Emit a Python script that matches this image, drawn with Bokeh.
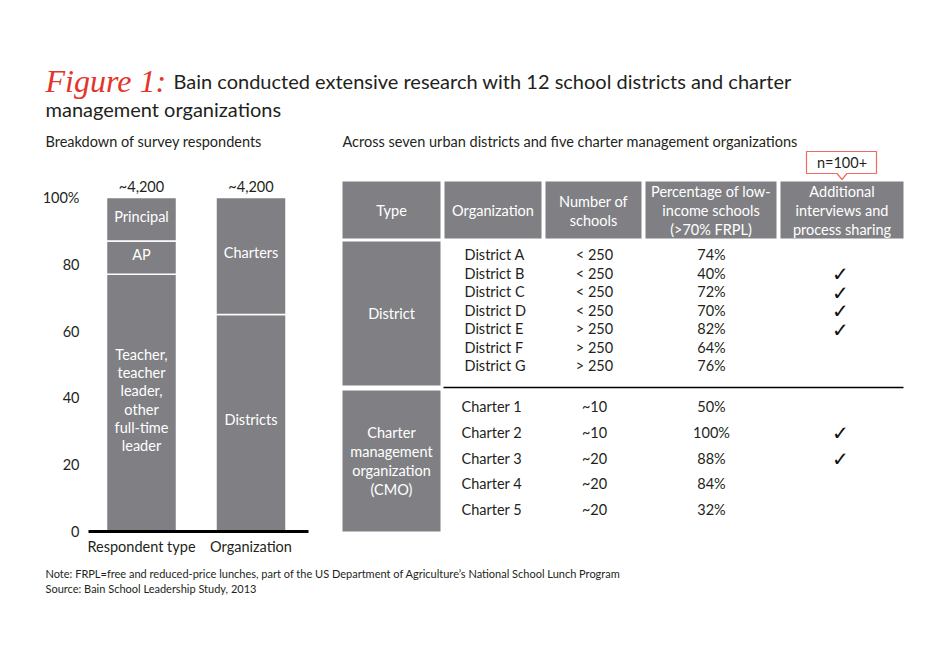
from bokeh.plotting import figure
from bokeh.models import Range1d, LinearAxis, FixedTicker
from bokeh.core.properties import value
from bokeh.embed import file_html
from bokeh.resources import INLINE

# ---------------- data ----------------
title_lead = "Figure 1:"
title_lines = ["Bain conducted extensive research with 12 school districts and charter",
               "management organizations"]
left_subtitle = "Breakdown of survey respondents"
right_subtitle = "Across seven urban districts and five charter management organizations"

bar_categories = ["Respondent type", "Organization"]
bar_totals = ["~4,200", "~4,200"]
respondent_segments = [["Teacher,", "teacher", "leader,", "other", "full-time", "leader"], ["AP"], ["Principal"]]
respondent_values = [77, 10, 13]
organization_segments = [["Districts"], ["Charters"]]
organization_values = [65, 35]
y_ticks = [0, 20, 40, 60, 80, 100]
y_tick_labels = {100: "100%"}

table_headers = [["Type"], ["Organization"], ["Number of", "schools"],
                 ["Percentage of low-", "income schools", "(>70% FRPL)"],
                 ["Additional", "interviews and", "process sharing"]]
district_type = ["District"]
district_names = ["District A", "District B", "District C", "District D", "District E", "District F", "District G"]
district_schools = ["< 250", "< 250", "< 250", "< 250", "> 250", "> 250", "> 250"]
district_pct = [74, 40, 72, 70, 82, 64, 76]
district_interviews = [False, True, True, True, True, False, False]
cmo_type = ["Charter", "management", "organization", "(CMO)"]
cmo_names = ["Charter 1", "Charter 2", "Charter 3", "Charter 4", "Charter 5"]
cmo_schools = ["~10", "~10", "~20", "~20", "~20"]
cmo_pct = [50, 100, 88, 84, 32]
cmo_interviews = [False, True, True, False, False]
interview_note = "n=100+"
footnotes = ["Note: FRPL=free and reduced-price lunches, part of the US Department of Agriculture\u2019s National School Lunch Program",
             "Source: Bain School Leadership Study, 2013"]

# ---------------- style / layout ----------------
GREY = "#808084"
TXT = "#231f20"
RED = "#e5352b"
FONT = value("Lato")
W, H = 934, 634
FT, FB, FL = 0, 634, 0          # frame in page coords
BASE_Y, TOP_Y = 531, 197        # 0% and 100% in page coords
BAR0_X, BAR_STEP, BAR_W = 141, 109.5, 70

p = figure(width=W, height=H, x_range=Range1d(FL, FL + W), y_range=Range1d(FB, FT),
           output_backend="svg", toolbar_location=None, x_axis_type=None, y_axis_type=None,
           min_border=0, outline_line_color=None)
p.background_fill_color = "white"

ppp = (BASE_Y - TOP_Y) / 100.0
ys = -(FB - BASE_Y) / ppp
p.extra_y_ranges = {"pct": Range1d(ys, ys + (FB - FT) / ppp)}
xs = -(BAR0_X - FL) / BAR_STEP
p.extra_x_ranges = {"bars": Range1d(xs, xs + W / BAR_STEP)}
bw = BAR_W / BAR_STEP


def txt(x, y, t, size="14px", color=TXT, align="left", baseline="middle", font=FONT, style="normal", **kw):
    p.text(x=[x], y=[y], text=[t], text_font=font, text_font_size=size, text_color=color,
           text_align=align, text_baseline=baseline, text_font_style=style, **kw)


# ---------------- titles ----------------
txt(45, 80, title_lead, size="32px", color=RED, baseline="alphabetic",
    font=value("Liberation Serif"), style="italic")
txt(173, 80, title_lines[0], size="20px", baseline="alphabetic")
txt(45, 108.5, title_lines[1], size="20px", baseline="alphabetic")
txt(45, 141, left_subtitle, size="14.5px")
txt(342, 141, right_subtitle, size="14.5px")

# ---------------- stacked bars ----------------
for i, (vals, labels) in enumerate([(respondent_values, respondent_segments),
                                    (organization_values, organization_segments)]):
    bottom = 0
    for v, lab in zip(vals, labels):
        top = bottom + v
        p.vbar(x=[i], width=bw, bottom=[bottom], top=[top], fill_color=GREY,
               line_color="white", line_width=1.5, x_range_name="bars", y_range_name="pct")
        mid = (bottom + top) / 2
        n = len(lab)
        for k, line in enumerate(lab):
            p.text(x=[i], y=[mid], text=[line], text_font=FONT, text_font_size="14.5px",
                   text_color="white", text_align="center", text_baseline="middle",
                   y_offset=(k - (n - 1) / 2) * 18.3 - 3, x_range_name="bars", y_range_name="pct")
        bottom = top
    p.text(x=[i], y=[100], text=[bar_totals[i]], text_font=FONT, text_font_size="14.5px",
           text_color=TXT, text_align="center", text_baseline="middle", y_offset=-11,
           x_range_name="bars", y_range_name="pct")
    p.text(x=[i], y=[0], text=[bar_categories[i]], text_font=FONT, text_font_size="14.5px",
           text_color=TXT, text_align="center", text_baseline="middle", y_offset=15,
           x_range_name="bars", y_range_name="pct")

p.line(x=[88, 308], y=[0, 0], line_color="black", line_width=3, y_range_name="pct")

yax = LinearAxis(y_range_name="pct", ticker=FixedTicker(ticks=y_ticks), fixed_location=88,
                 major_label_overrides=y_tick_labels, axis_line_color=None,
                 major_tick_line_color=None, minor_tick_line_color=None,
                 major_tick_out=0, major_label_standoff=9,
                 major_label_text_font="Lato", major_label_text_font_size="14.5px",
                 major_label_text_color=TXT)
p.add_layout(yax, "left")

# ---------------- table ----------------
cols = [(342, 440), (444, 541), (545, 641), (645, 776), (780, 903)]
HT, HB = 181, 238
for (l, r), lines in zip(cols, table_headers):
    p.quad(left=[l], right=[r], top=[HT], bottom=[HB], fill_color=GREY, line_color=None)
    n = len(lines)
    cx, cy = (l + r) / 2, (HT + HB) / 2 + 0.5
    for k, line in enumerate(lines):
        txt(cx, cy + (k - (n - 1) / 2) * 19, line, size="14.5px", color="white", align="center")

# callout
cx_c = (cols[4][0] + cols[4][1]) / 2
p.patch(x=[806, 876, 876, cx_c + 5, cx_c, cx_c - 5, 806],
        y=[151, 151, 173, 173, 179, 173, 173], fill_color="white", line_color="#ee6a64", line_width=1.2)
txt(cx_c, 162, interview_note, size="14.5px", align="center")

type_cx = (cols[0][0] + cols[0][1]) / 2
col_school_x, col_pct_x, col_chk_x = 594, 711, 840


def block(top, bottom, type_lines, names, schools, pcts, checks, y0, step, name_x):
    p.quad(left=[cols[0][0]], right=[cols[0][1]], top=[top], bottom=[bottom], fill_color=GREY, line_color=None)
    n = len(type_lines)
    cy = (top + bottom) / 2
    for k, line in enumerate(type_lines):
        txt(type_cx, cy + (k - (n - 1) / 2) * 18.7, line, size="14.5px", color="white", align="center")
    for i in range(len(names)):
        y = y0 + i * step
        txt(name_x, y, names[i], size="14.5px")
        txt(col_school_x, y, schools[i], size="14.5px", align="center")
        txt(col_pct_x, y, f"{pcts[i]}%", size="14.5px", align="center")
        if checks[i]:
            txt(col_chk_x, y + 1, "\u2713", size="20px", align="center", color="#111111",
                font=value("DejaVu Sans"))


block(241, 385, district_type, district_names, district_schools, district_pct, district_interviews, 254, 18.5, 464)
p.line(x=[443, 903], y=[387, 387], line_color="black", line_width=1.5)
block(390, 531, cmo_type, cmo_names, cmo_schools, cmo_pct, cmo_interviews, 406, 25.75, 461)

# ---------------- footnotes ----------------
txt(45, 573, footnotes[0], size="11px")
txt(45, 588, footnotes[1], size="11px")

open("out.html", "w").write(file_html(p, INLINE))
